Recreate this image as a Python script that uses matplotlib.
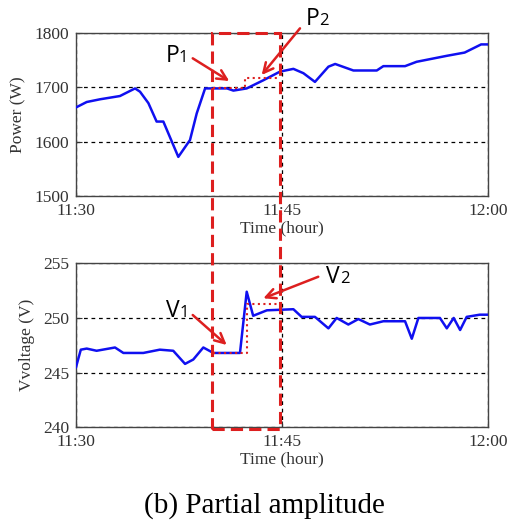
import matplotlib.pyplot as plt
from matplotlib.patches import Rectangle

# Tiempo en minutos desde las 11:30
t_p = [0, 0.78, 1.75, 3.2, 4.3, 4.66, 5.27, 5.87, 6.36, 7.45, 8.3, 8.79, 9.4, 10.0, 11.0,
       11.46, 12.43, 13.64, 14.86, 15.83, 16.56, 17.4, 18.38, 18.87, 20.2, 21.9, 22.38,
       23.96, 24.8, 26.0, 27.0, 28.3, 29.5, 30]
potencia = [1663, 1673, 1678, 1684, 1698, 1692, 1671, 1637, 1637, 1572, 1603, 1652, 1698,
            1698, 1698, 1694, 1698, 1713, 1729, 1734, 1726, 1710, 1738, 1743, 1731, 1731,
            1739, 1739, 1747, 1753, 1758, 1764, 1779, 1779]

t_v = [0, 0.35, 0.78, 1.5, 2.84, 3.45, 4.9, 6.1, 7.08, 7.94, 8.54, 9.27, 10.0, 11.94,
       12.43, 12.9, 13.9, 15.83, 16.43, 17.4, 18.38, 18.98, 19.83, 20.56, 21.4, 22.38,
       23.96, 24.45, 24.93, 26.5, 27.0, 27.5, 27.97, 28.45, 29.4, 30]
voltaje = [245.5, 247.1, 247.2, 247.0, 247.3, 246.8, 246.8, 247.1, 247.0, 245.8, 246.2,
           247.3, 246.8, 246.8, 252.4, 250.2, 250.7, 250.8, 250.1, 250.1, 249.05, 250.0,
           249.4, 249.9, 249.4, 249.7, 249.7, 248.1, 250.0, 250.0, 249.05, 250.0, 248.9,
           250.1, 250.3, 250.3]

# Escalones punteados (P1 -> P2, V1 -> V2)
t_escalon_p = [10.0, 12.3, 12.3, 14.6]
p_escalon = [1698, 1698, 1718, 1718]
t_escalon_v = [10.0, 12.48, 12.48, 14.7]
v_escalon = [246.8, 246.8, 251.3, 251.3]

# Ventana marcada
ventana = [9.9, 14.86]

ticks_x = [0, 15, 30]
etiquetas_x = ['11:30', '11:45', '12:00']

serif = 'Liberation Serif'
sans = 'Open Sans'
azul = '#1010f0'
rojo = '#dd1f1f'
gris = '#333333'

fig = plt.figure(figsize=(5.09, 5.23), dpi=100)
ax1 = fig.add_axes([76/509, 1-196/523, 412/509, 163/523])
ax2 = fig.add_axes([76/509, 1-427.3/523, 412/509, 164/523])

def estilo(ax, yticks, ylabel):
    ax.set_xlim(0, 30)
    ax.set_xticks(ticks_x)
    ax.set_xticklabels(etiquetas_x)
    ax.set_yticks(yticks)
    ax.set_ylim(yticks[0], yticks[-1])
    ax.grid(True, color='black', linestyle=(0, (3, 3)), linewidth=0.9)
    ax.tick_params(direction='in', length=4, colors=gris, labelsize=12.5, pad=5)
    for lab in ax.get_xticklabels() + ax.get_yticklabels():
        lab.set_fontfamily(serif)
    for s in ax.spines.values():
        s.set_color('#444444')
        s.set_linewidth(1.0)
    ax.set_xlabel('Time (hour)', family=serif, fontsize=12.5, color=gris, labelpad=1)
    ax.set_ylabel(ylabel, family=serif, fontsize=12.5, color=gris, labelpad=6)

# Gráfica de potencia
ax1.plot(t_p, potencia, color=azul, linewidth=1.8, zorder=3)
ax1.plot(t_escalon_p, p_escalon, color=rojo, linestyle=':', linewidth=1.5, zorder=4)
estilo(ax1, [1500, 1600, 1700, 1800], 'Power (W)')

# Gráfica de voltaje
ax2.plot(t_v, voltaje, color=azul, linewidth=1.8, zorder=3)
ax2.plot(t_escalon_v, v_escalon, color=rojo, linestyle=':', linewidth=1.5, zorder=4)
estilo(ax2, [240, 245, 250, 255], 'Vvoltage (V)')

# Flechas y etiquetas
flecha = dict(arrowstyle='->,head_length=0.7,head_width=0.35', color=rojo, lw=1.8,
              shrinkA=0, shrinkB=0)

def etiqueta(ax, x, y, letra, sub):
    ax.text(x, y, letra, family=sans, fontsize=16.5, ha='right', va='baseline',
            clip_on=False)
    ax.text(x, y, sub, family=sans, fontsize=12, ha='left', va='baseline',
            clip_on=False)

ax1.annotate('', xy=(11.16, 1711.6), xytext=(8.5, 1753.4), arrowprops=flecha,
             annotation_clip=False)
ax1.annotate('', xy=(13.52, 1722.7), xytext=(16.31, 1808.6), arrowprops=flecha,
             annotation_clip=False)
ax2.annotate('', xy=(10.97, 247.53), xytext=(8.5, 250.27), arrowprops=flecha,
             annotation_clip=False)
ax2.annotate('', xy=(13.64, 251.8), xytext=(17.64, 253.77), arrowprops=flecha,
             annotation_clip=False)

etiqueta(ax1, 7.5, 1746, 'P', '1')
etiqueta(ax1, 17.7, 1814, 'P', '2')
etiqueta(ax2, 7.55, 250.06, 'V', '1')
etiqueta(ax2, 19.2, 253.17, 'V', '2')

# Rectángulo rojo que cruza las dos gráficas
inv = fig.transFigure.inverted()
x0, y_sup = inv.transform(ax1.transData.transform((ventana[0], 1800)))
x1, _ = inv.transform(ax1.transData.transform((ventana[1], 1800)))
_, y_inf = inv.transform(ax2.transData.transform((ventana[0], 240)))
y_inf -= 2/523
rect = Rectangle((x0, y_inf), x1 - x0, y_sup - y_inf, transform=fig.transFigure,
                 fill=False, edgecolor=rojo, linewidth=2.2, linestyle=(0, (4, 2)),
                 zorder=10)
fig.patches.append(rect)

fig.text(264/509, 1-513/523, '(b) Partial amplitude', family=serif, fontsize=21,
         ha='center', va='baseline')

fig.savefig('out.png', dpi=100)
